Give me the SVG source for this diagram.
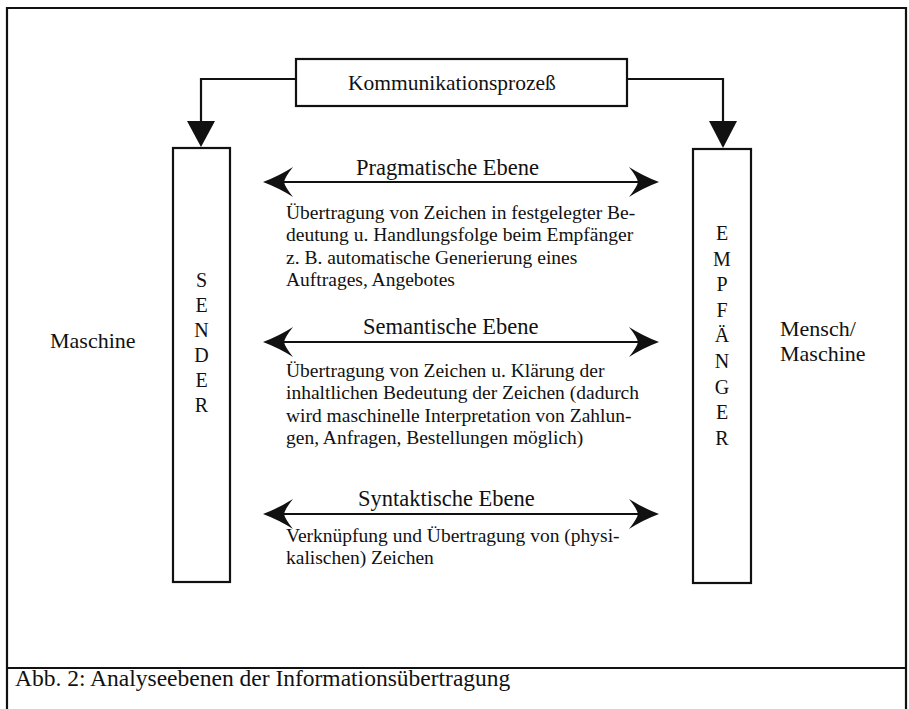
<svg xmlns="http://www.w3.org/2000/svg" width="909" height="709" viewBox="0 0 909 709">
  <style>
    .line { fill: none; stroke: #111; stroke-width: 2.2; }
    .box { fill: #fff; stroke: #111; stroke-width: 2.2; }
    .head { fill: #111; stroke: none; }
    text { font-family: "Liberation Serif", "Times New Roman", serif; fill: #111; }
    .title { font-size: 21.5px; }
    .level { font-size: 22.5px; }
    .body { font-size: 19.5px; }
    .side { font-size: 22px; }
    .letter { font-size: 20px; text-anchor: middle; }
    .caption { font-size: 23.5px; }
  </style>
  <defs>
    <!-- concave double-sided arrowhead pointing left, tip at origin -->
    <path id="tipL" d="M0,0 Q16,-6 30,-15 Q22,-5 21,0 Q22,5 30,15 Q16,6 0,0 Z"/>
  </defs>
  <rect width="909" height="709" fill="#fff"/>

  <!-- outer frame and caption divider -->
  <g id="frame">
    <path class="line" d="M7,709 V8 H906 V709"/>
    <path class="line" d="M7,668 H906"/>
  </g>

  <g id="process">
    <rect class="box" x="296" y="59" width="331" height="47"/>
    <text class="title" x="348" y="90">Kommunikationsprozeß</text>
  </g>

  <g id="sender">
    <rect class="box" x="173" y="148" width="57" height="434"/>
    <text class="letter" x="201.5" y="287">S</text>
    <text class="letter" x="201.5" y="312">E</text>
    <text class="letter" x="201.5" y="337">N</text>
    <text class="letter" x="201.5" y="362">D</text>
    <text class="letter" x="201.5" y="387">E</text>
    <text class="letter" x="201.5" y="412">R</text>
  </g>

  <g id="empfaenger">
    <rect class="box" x="693" y="149" width="58" height="434"/>
    <text class="letter" x="722" y="240">E</text>
    <text class="letter" x="722" y="265.6">M</text>
    <text class="letter" x="722" y="291.2">P</text>
    <text class="letter" x="722" y="316.8">F</text>
    <text class="letter" x="722" y="342.4">Ä</text>
    <text class="letter" x="722" y="368">N</text>
    <text class="letter" x="722" y="393.6">G</text>
    <text class="letter" x="722" y="419.2">E</text>
    <text class="letter" x="722" y="444.8">R</text>
  </g>

  <g id="sender-label">
    <text class="side" x="50" y="348">Maschine</text>
  </g>

  <g id="receiver-label">
    <text class="side" x="780" y="336">Mensch/</text>
    <text class="side" x="780" y="361">Maschine</text>
  </g>

  <g id="connectors">
    <path class="line" d="M296,79 H201 V122"/>
    <polygon class="head" points="187,121 215,121 201,147"/>
    <path class="line" d="M627,79 H723 V122"/>
    <polygon class="head" points="709,121 737,121 723,148"/>

    <!-- pragmatic level -->
    <path class="line" d="M275,182 H647" stroke-width="2.5"/>
    <use href="#tipL" class="head" transform="translate(263,182)"/>
    <use href="#tipL" class="head" transform="translate(659,182) scale(-1,1)"/>
    <!-- semantic level -->
    <path class="line" d="M275,342 H647" stroke-width="2.5"/>
    <use href="#tipL" class="head" transform="translate(263,342)"/>
    <use href="#tipL" class="head" transform="translate(659,342) scale(-1,1)"/>
    <!-- syntactic level -->
    <path class="line" d="M275,514 H647" stroke-width="2.5"/>
    <use href="#tipL" class="head" transform="translate(263,514)"/>
    <use href="#tipL" class="head" transform="translate(659,514) scale(-1,1)"/>
  </g>

  <g id="pragmatic">
    <text class="level" x="356" y="175">Pragmatische Ebene</text>
    <text class="body" x="286" y="219">Übertragung von Zeichen in festgelegter Be-</text>
    <text class="body" x="286" y="241.3">deutung u. Handlungsfolge beim Empfänger</text>
    <text class="body" x="286" y="263.6">z. B. automatische Generierung eines</text>
    <text class="body" x="286" y="286">Auftrages, Angebotes</text>
  </g>

  <g id="semantic">
    <text class="level" x="363" y="334">Semantische Ebene</text>
    <text class="body" x="286" y="377">Übertragung von Zeichen u. Klärung der</text>
    <text class="body" x="286" y="399.3">inhaltlichen Bedeutung der Zeichen (dadurch</text>
    <text class="body" x="286" y="421.6">wird maschinelle Interpretation von Zahlun-</text>
    <text class="body" x="286" y="444">gen, Anfragen, Bestellungen möglich)</text>
  </g>

  <g id="syntactic">
    <text class="level" x="358" y="506">Syntaktische Ebene</text>
    <text class="body" x="286" y="542">Verknüpfung und Übertragung von (physi-</text>
    <text class="body" x="286" y="564">kalischen) Zeichen</text>
  </g>

  <g id="caption">
    <text class="caption" x="15" y="686">Abb. 2: Analyseebenen der Informationsübertragung</text>
  </g>
</svg>
